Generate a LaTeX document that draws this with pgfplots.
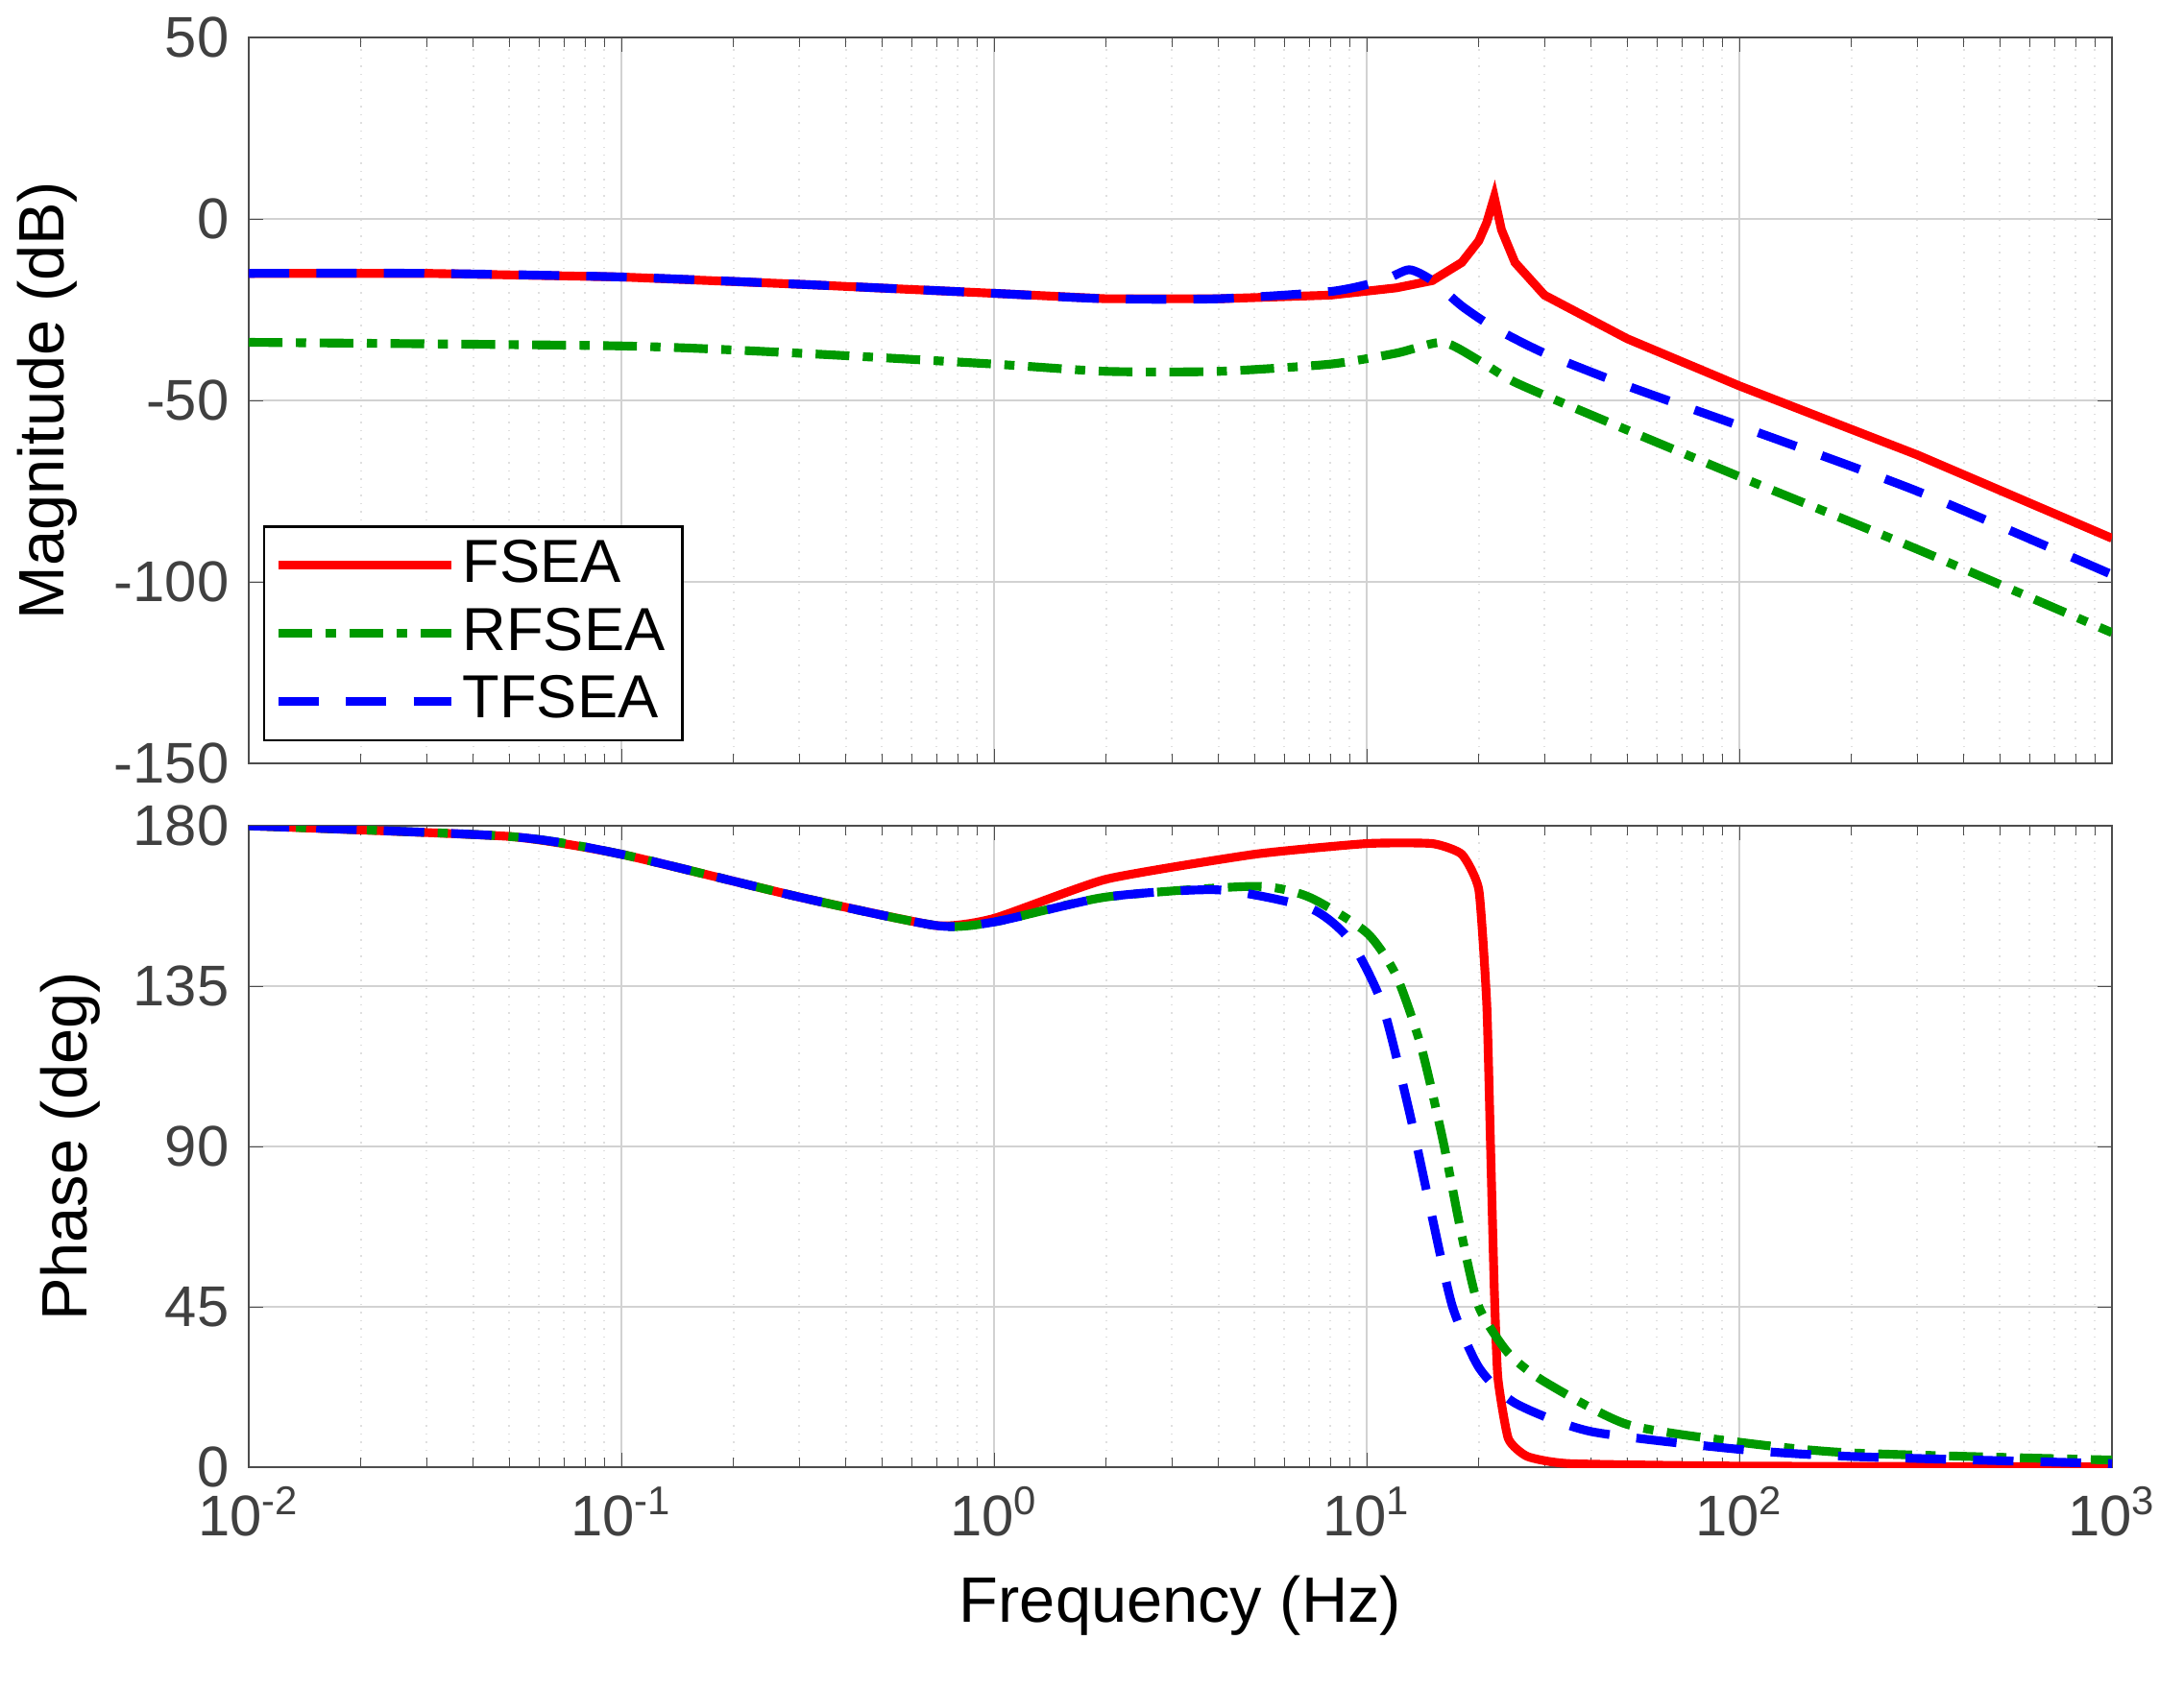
\documentclass[border=0pt]{standalone}
\usepackage{pgfplots}
\pgfplotsset{compat=1.18}
\usepackage{fontspec}
\setmainfont{Liberation Sans}
\begin{document}
\fontsize{17}{20}\selectfont
\begin{tikzpicture}
\pgfplotsset{every axis/.append style={
  scale only axis, width=19.4cm, xmode=log, xmin=0.01, xmax=1000,
  /pgf/number format/assume math mode=true,
  grid=both, major grid style={gray!35, line width=0.6pt},
  minor grid style={gray!25, dotted, line width=0.6pt},
  axis line style={black!70, line width=0.8pt}, tick style={black!70},
  ticklabel style={font=\fontsize{17}{20}\selectfont, text=black!75},
  label style={font=\fontsize{19}{22}\selectfont},
  xtick={0.01,0.1,1,10,100,1000}}}
\tikzset{dd/.style={line width=2.6pt, dash pattern=on 10pt off 4pt on 3pt off 4pt}}
\path[use as bounding box] (0,0) rectangle (22.74,17.57);
\begin{axis}[at={(2.59cm,9.62cm)}, height=7.56cm, ymin=-150, ymax=50, ytick={-150,-100,-50,0,50},
  xticklabels={}, ylabel={Magnitude (dB)}, ylabel style={anchor=center, at={(axis description cs:-0.108,0.5)}},
  legend style={at={(axis cs:0.0109,-144)}, anchor=south west, draw=black, line width=0.8pt, font=\fontsize{18}{21}\selectfont, row sep=1pt},
  legend cell align=left, legend image post style={line width=2.6pt}, legend image code/.code={\draw[#1] (0cm,0cm) -- (1.8cm,0cm);}]
\addplot[red, line width=2.6pt] coordinates {(0.01,-15)(0.03,-15)(0.1,-16)(0.3,-18)(1,-20.5)(2,-22)(4,-22)(8,-21)(12,-19)(15,-17)(18,-12)(20,-6)(21,-1)(22,6)(23,-3)(25,-12)(30,-21)(50,-33)(100,-46)(300,-65)(1000,-88)};
\addlegendentry{FSEA}
\addplot[green!60!black, dd, smooth, tension=0.4] coordinates {(0.01,-34)(0.1,-35)(0.3,-37)(1,-40)(2,-42)(4,-42)(8,-40)(12,-37)(16,-34)(20,-39)(25,-45)(40,-54)(100,-71)(300,-91)(1000,-114)};
\addlegendentry{RFSEA}
\addplot[blue, line width=2.6pt, dash pattern=on 12pt off 8pt, smooth, tension=0.4] coordinates {(0.01,-15)(0.03,-15)(0.1,-16)(0.3,-18)(1,-20.5)(2,-22)(4,-22)(8,-20)(11,-17)(13,-14)(15,-17)(18,-24)(22,-30)(30,-37)(50,-46)(100,-57)(300,-75)(1000,-98)};
\addlegendentry{TFSEA}
\end{axis}
\begin{axis}[at={(2.59cm,2.29cm)}, height=6.68cm, ymin=0, ymax=180, ytick={0,45,90,135,180},
  xticklabels={10\textsuperscript{-2},10\textsuperscript{-1},10\textsuperscript{0},10\textsuperscript{1},10\textsuperscript{2},10\textsuperscript{3}},
  xlabel={Frequency  (Hz)}, ylabel={Phase (deg)}, ylabel style={anchor=center, at={(axis description cs:-0.096,0.5)}}]
\addplot[red, line width=2.6pt, smooth, tension=0.3] coordinates {(0.01,180)(0.05,177)(0.1,172)(0.3,160)(0.7,152)(1,154)(2,165)(5,172)(10,175)(15,175)(18,172)(20,162)(21,130)(21.5,90)(22,50)(22.5,25)(24,8)(27,3)(35,1)(100,0.3)(1000,0.1)};
\addplot[green!60!black, dd, smooth, tension=0.4] coordinates {(0.01,180)(0.05,177)(0.1,172)(0.3,160)(0.7,152)(1,153)(2,160)(5,163)(7,160)(10,150)(12,138)(14,118)(16,92)(18,65)(20,45)(24,32)(30,24)(50,12)(100,7)(200,4)(1000,2)};
\addplot[blue, line width=2.6pt, dash pattern=on 12pt off 8pt, smooth, tension=0.4] coordinates {(0.01,180)(0.05,177)(0.1,172)(0.3,160)(0.7,152)(1,153)(2,160)(4,162)(7,157)(9,148)(11,130)(13,100)(15,70)(17,45)(20,28)(25,18)(40,10)(100,5)(200,3)(1000,1)};
\end{axis}
\end{tikzpicture}
\end{document}
